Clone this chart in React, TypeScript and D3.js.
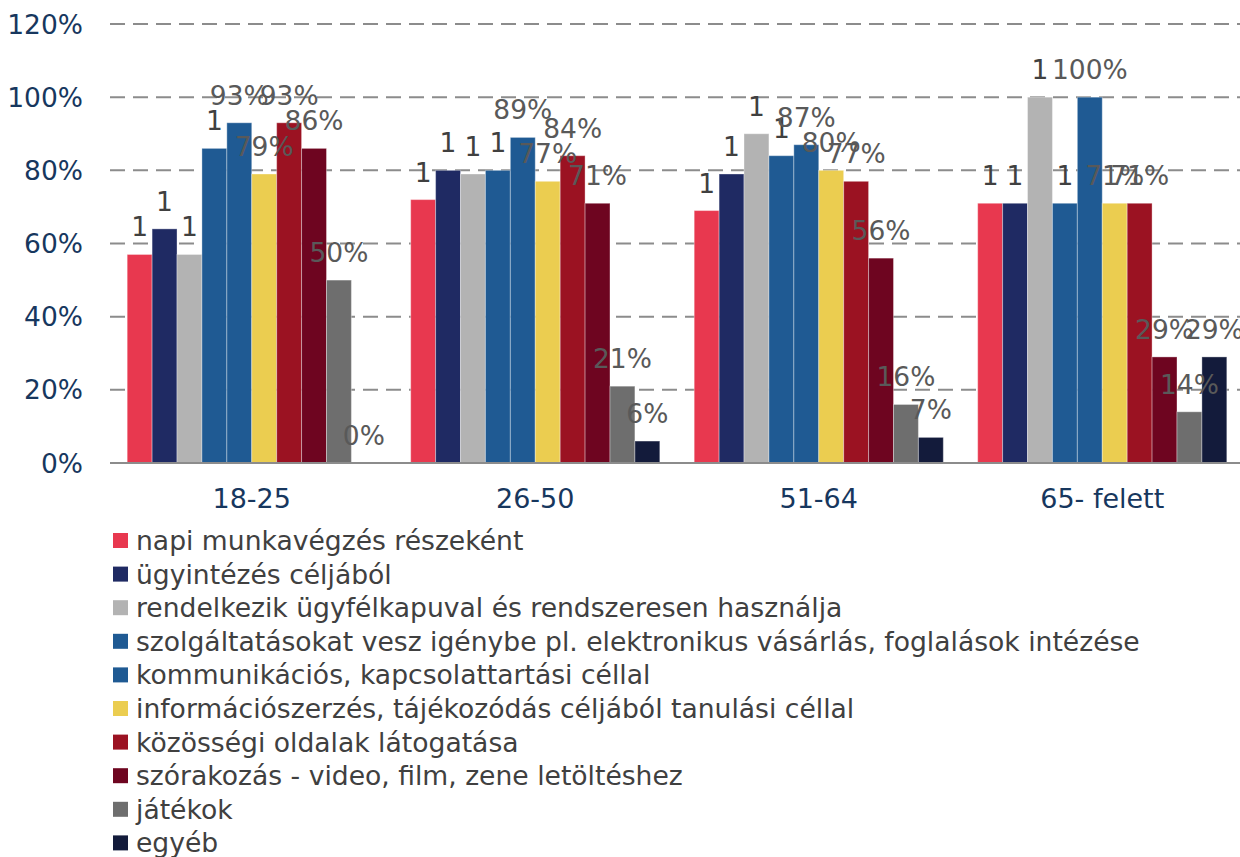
import { useEffect, useRef } from 'react';
import * as d3 from 'd3';

const categories = ['18-25', '26-50', '51-64', '65- felett'];

const seriesNames = [
  'napi munkavégzés részeként',
  'ügyintézés céljából',
  'rendelkezik ügyfélkapuval és rendszeresen használja',
  'szolgáltatásokat vesz igénybe pl. elektronikus vásárlás, foglalások intézése',
  'kommunikációs, kapcsolattartási céllal',
  'információszerzés, tájékozódás céljából tanulási céllal',
  'közösségi oldalak látogatása',
  'szórakozás - video, film, zene letöltéshez',
  'játékok',
  'egyéb',
];

const seriesColors = [
  '#E8384F', '#1F2A63', '#B3B3B3', '#1F5A93', '#1F5A93',
  '#EBCD50', '#9B1222', '#6E0520', '#6E6E6E', '#131B3B',
];

// values per series, one per category
const napi = [0.57, 0.72, 0.69, 0.71];
const ugyintezes = [0.64, 0.80, 0.79, 0.71];
const ugyfelkapu = [0.57, 0.79, 0.90, 1.0];
const szolgaltatas = [0.86, 0.80, 0.84, 0.71];
const kommunikacio = [0.93, 0.89, 0.87, 1.0];
const informacio = [0.79, 0.77, 0.80, 0.71];
const kozossegi = [0.93, 0.84, 0.77, 0.71];
const szorakozas = [0.86, 0.71, 0.56, 0.29];
const jatekok = [0.50, 0.21, 0.16, 0.14];
const egyeb = [0.0, 0.06, 0.07, 0.29];

const seriesValues = [
  napi, ugyintezes, ugyfelkapu, szolgaltatas, kommunikacio,
  informacio, kozossegi, szorakozas, jatekok, egyeb,
];

// the first four series carry a "1" as their data label in the source
const labelIsOne = [true, true, true, true, false, false, false, false, false, false];

const yTicks = [0, 0.2, 0.4, 0.6, 0.8, 1.0, 1.2];

const FONT = '"DejaVu Sans", Verdana, sans-serif';

export default function App() {
  const svgRef = useRef<SVGSVGElement>(null);

  useEffect(() => {
    const W = 1240, H = 857;
    const left = 110, right = 1244, top = 24, bottom = 463;

    const svg = d3.select(svgRef.current);
    svg.selectAll('*').remove();

    const x0 = d3.scaleBand<string>().domain(categories).range([left, right]).padding(0);
    const x1 = d3.scaleBand<number>().domain(d3.range(seriesNames.length))
      .range([0, x0.bandwidth()]).paddingInner(0).paddingOuter(0.69);
    const y = d3.scaleLinear().domain([0, 1.2]).range([bottom, top]);

    // gridlines
    svg.append('g').selectAll('line').data(yTicks.filter(t => t > 0)).join('line')
      .attr('x1', left).attr('x2', W)
      .attr('y1', d => y(d)).attr('y2', d => y(d))
      .attr('stroke', '#8C8C8C').attr('stroke-width', 2)
      .attr('stroke-dasharray', '15,8');

    // y tick labels
    svg.append('g').selectAll('text').data(yTicks).join('text')
      .attr('x', 83).attr('y', d => y(d)).attr('dy', '0.36em')
      .attr('text-anchor', 'end').attr('font-family', FONT).attr('font-size', 26.5)
      .attr('fill', '#17375E')
      .text(d => d3.format('.0%')(d));

    // bars
    const groups = svg.append('g').selectAll('g').data(categories).join('g')
      .attr('transform', d => `translate(${x0(d)},0)`);

    groups.selectAll('rect')
      .data((_, ci) => seriesValues.map((vals, si) => ({ si, v: vals[ci] })))
      .join('rect')
      .attr('x', d => x1(d.si)!)
      .attr('y', d => y(d.v))
      .attr('width', x1.bandwidth())
      .attr('height', d => bottom - y(d.v))
      .attr('fill', d => seriesColors[d.si])
      .attr('stroke', 'rgba(255,255,255,0.35)')
      .attr('stroke-width', 1);

    // baseline
    svg.append('line')
      .attr('x1', left).attr('x2', W).attr('y1', bottom).attr('y2', bottom)
      .attr('stroke', '#8C8C8C').attr('stroke-width', 2);

    // data labels
    groups.selectAll('text')
      .data((_, ci) => seriesValues.map((vals, si) => ({ si, v: vals[ci] })))
      .join('text')
      .attr('x', d => x1(d.si)! + x1.bandwidth() / 2)
      .attr('y', d => y(d.v) - 18)
      .attr('text-anchor', 'middle').attr('font-family', FONT).attr('font-size', 26.5)
      .attr('fill', d => labelIsOne[d.si] ? '#404040' : '#595959')
      .text(d => labelIsOne[d.si] ? '1' : d3.format('.0%')(d.v));

    // category labels
    svg.append('g').selectAll('text').data(categories).join('text')
      .attr('x', d => x0(d)! + x0.bandwidth() / 2)
      .attr('y', 508)
      .attr('text-anchor', 'middle').attr('font-family', FONT).attr('font-size', 27)
      .attr('fill', '#17375E')
      .text(d => d);

    // legend
    const legend = svg.append('g').selectAll('g').data(seriesNames).join('g')
      .attr('transform', (_, i) => `translate(113,${533 + i * 33.6})`);
    legend.append('rect').attr('width', 15).attr('height', 15)
      .attr('fill', (_, i) => seriesColors[i]);
    legend.append('text').attr('x', 23).attr('y', 17)
      .attr('font-family', FONT).attr('font-size', 26.6).attr('fill', '#404040')
      .text(d => d);

    svg.attr('width', W).attr('height', H);
  }, []);

  return (
    <div style={{ position: 'absolute', left: 0, top: 0, width: 1240, height: 857, background: '#fff' }}>
      <svg ref={svgRef} width={1240} height={857} style={{ display: 'block' }} />
    </div>
  );
}
